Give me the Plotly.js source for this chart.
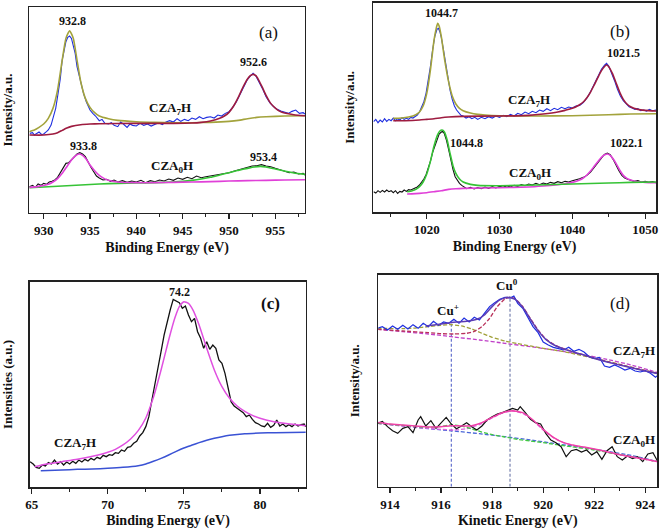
<!DOCTYPE html>
<html>
<head>
<meta charset="utf-8">
<script src="https://cdn.plot.ly/plotly-3.0.1.min.js"></script>
<style>html,body{margin:0;padding:0;background:#fff;}#chart{width:663px;height:529px;}</style>
</head>
<body>
<div id="chart"></div>
<script>
// ---------- Panel (a): Cu 2p ----------
const aDataX7 = [928.5,928.8,929.0,929.3,929.5,929.8,930.0,930.3,930.5,930.8,931.0,931.3,931.5,931.8,932.0,932.2,932.4,932.6,932.8,933.0,933.2,933.4,933.6,933.8,934.0,934.3,934.6,935.0,935.3,935.6,936.0,936.3,936.6,937.0,937.3,937.6,938.0,938.3,938.6,939.0,939.3,939.6,940.0,940.4,940.8,941.2,941.6,942.0,942.4,942.8,943.2,943.6,944.0,944.4,944.8,945.2,945.6,946.0,946.4,946.8,947.2,947.6,948.0,948.4,948.8,949.2,949.6,950.0,950.4,950.8,951.2,951.6,952.0,952.3,952.6,952.9,953.2,953.6,954.0,954.4,954.8,955.2,955.6,956.0,956.4,956.8,957.2,957.6,958.0,958.2];
const aDataY7 = [238,240,233,238,242,234,236,243,248,263,283,313,348,403,458,488,513,526,530,523,503,478,438,413,388,358,333,308,298,290,276,280,268,266,270,262,258,272,266,256,266,262,260,268,262,266,260,264,270,264,272,276,272,282,274,280,276,284,280,288,282,286,288,284,293,290,298,303,316,333,356,378,400,410,418,410,396,373,348,330,318,310,305,302,298,304,308,298,300,296];
const aFitX7o = [928.45,929,929.5,930,930.5,931,931.5,932,932.4,932.8,933.2,933.6,934,934.5,935,935.5,936,937,938,940,942,944,946,948,950,951,952,953,954,956,958.2];
const aFitY7o = [243,248,256,266,283,313,368,458,523,546,523,458,393,343,316,300,290,282,277,273,271,270,270,271,274,277,282,286,288,290,291];
const aFitX7m = [928.45,930,931,931.5,932,932.5,933,934,935,936,940,944,946,947,948,949,949.5,950,950.5,951,951.5,952,952.3,952.6,952.9,953.2,953.6,954,954.5,955,955.5,956,957,958.2];
const aFitY7m = [233,233,236,240,247,254,259,264,266,267,268,268,269,271,275,283,290,301,320,346,376,401,411,415,411,398,376,352,328,314,304,299,294,291];
const aDataX0 = [928.45,928.8,929.1,929.4,929.7,930.0,930.3,930.6,930.9,931.2,931.5,931.8,932.1,932.4,932.7,933.0,933.3,933.6,933.9,934.2,934.5,934.8,935.1,935.4,935.7,936.0,936.4,936.8,937.2,937.6,938.0,938.5,939.0,939.5,940.0,940.5,941.0,941.5,942.0,942.5,943.0,943.5,944.0,944.5,945.0,945.5,946.0,946.5,947.0,947.5,948.0,948.5,949.0,949.5,950.0,950.5,951.0,951.5,952.0,952.5,953.0,953.5,954.0,954.5,955.0,955.5,956.0,956.5,957.0,957.5,958.0,958.2];
const aDataY0 = [78,82,76,86,82,88,85,92,94,98,106,120,133,148,150,158,168,176,180,176,168,150,136,123,110,104,98,100,94,98,92,96,91,95,92,97,90,96,93,98,95,101,97,104,100,106,102,110,105,108,110,112,115,117,120,124,128,132,135,140,141,144,140,138,133,128,124,120,122,116,118,113];
const aFitX0p = [928.45,929.5,930.5,931,931.5,932,932.5,933,933.4,933.8,934.2,934.6,935,935.5,936,936.5,937,938,940,942,944,946,948,950,952,954,956,958.2];
const aFitY0p = [76,79,85,92,102,118,138,158,170,176,172,160,143,126,112,103,97,92,90,90,91,92,93,95,96,97,98,99];
const aFitX0g = [928.45,930,932,934,936,938,940,942,944,945,946,947,948,949,950,951,952,952.7,953.4,954,955,956,957,958.2];
const aFitY0g = [75,77,80,83,86,88,89,90,92,94,97,101,106,113,120,127,133,137,139,137,131,125,119,115];

// ---------- Panel (b): Zn 2p ----------
const bDataX7 = [1012.7,1013.0,1013.3,1013.6,1013.9,1014.2,1014.5,1014.8,1015.1,1015.4,1015.7,1016.0,1016.3,1016.6,1016.9,1017.2,1017.5,1017.8,1018.1,1018.4,1018.7,1019.0,1019.3,1019.6,1019.9,1020.2,1020.5,1020.8,1021.1,1021.4,1021.6,1021.8,1022.0,1022.3,1022.6,1022.9,1023.2,1023.5,1023.8,1024.1,1024.4,1024.7,1025.0,1025.4,1025.8,1026.2,1026.6,1027.0,1027.5,1028.0,1028.5,1029.0,1029.5,1030.0,1030.5,1031.0,1031.5,1032.0,1032.5,1033.0,1033.5,1034.0,1034.5,1035.0,1035.5,1036.0,1036.5,1037.0,1037.5,1038.0,1038.5,1039.0,1039.5,1040.0,1040.5,1041.0,1041.5,1042.0,1042.5,1043.0,1043.5,1044.0,1044.4,1044.7,1045.0,1045.4,1045.8,1046.2,1046.6,1047.0,1047.4,1047.8,1048.2,1048.6,1049.0,1049.4,1049.8,1050.2,1050.6,1051.0,1051.5];
const bDataY7 = [271,278,268,276,270,280,272,278,274,282,274,280,276,283,278,281,278,284,282,287,291,300,314,331,356,391,436,486,526,548,551,541,524,486,441,398,366,338,318,306,296,290,288,282,286,280,284,278,284,280,286,282,288,284,290,286,293,288,296,292,300,295,302,298,306,302,310,304,311,307,314,310,315,312,318,320,328,342,361,384,408,428,440,446,438,418,394,368,348,334,324,316,312,308,310,304,306,303,308,304,306];
const bFitX7o = [1015.4,1016.5,1017.5,1018.5,1019,1019.5,1020,1020.5,1021,1021.3,1021.5,1021.7,1022,1022.5,1023,1023.5,1024,1024.5,1025,1026,1027,1028,1030,1035,1040,1045,1048,1051.5];
const bFitY7o = [281,282,285,292,300,318,356,426,516,551,566,558,526,451,391,348,324,311,304,297,293,291,289,288,289,292,294,295];
const bFitX7m = [1015.4,1017,1019,1020,1021,1022,1023,1025,1030,1034,1036,1038,1039,1040,1041,1041.5,1042,1042.5,1043,1043.5,1044,1044.4,1044.7,1045,1045.5,1046,1046.5,1047,1047.5,1048,1049,1050,1051.5];
const bFitY7m = [274,274,276,278,280,283,285,287,288,290,294,300,305,311,322,330,343,360,381,403,424,436,441,436,416,388,360,338,324,316,308,305,303];
const bDataX0 = [1012.7,1013.0,1013.3,1013.6,1013.9,1014.2,1014.5,1014.8,1015.1,1015.4,1015.7,1016.0,1016.3,1016.6,1016.9,1017.2,1017.5,1017.8,1018.1,1018.4,1018.7,1019.0,1019.3,1019.6,1019.9,1020.2,1020.5,1020.8,1021.1,1021.4,1021.7,1022.0,1022.2,1022.4,1022.7,1023.0,1023.3,1023.6,1023.9,1024.2,1024.5,1024.8,1025.1,1025.5,1026.0,1026.5,1027.0,1027.5,1028.0,1028.5,1029.0,1029.5,1030.0,1030.5,1031.0,1031.5,1032.0,1032.5,1033.0,1033.5,1034.0,1034.5,1035.0,1035.5,1036.0,1036.5,1037.0,1037.5,1038.0,1038.5,1039.0,1039.5,1040.0,1040.5,1041.0,1041.5,1042.0,1042.5,1043.0,1043.5,1044.0,1044.4,1044.8,1045.2,1045.6,1046.0,1046.4,1046.8,1047.2,1047.6,1048.0,1048.5,1049.0,1049.5,1050.0,1050.5,1051.0,1051.5];
const bDataY0 = [61,57,64,59,65,60,66,61,64,58,64,56,62,60,66,62,67,66,69,71,75,81,89,99,112,130,152,178,198,218,234,240,242,236,216,188,154,128,106,94,86,80,76,70,74,69,73,70,75,71,76,72,77,74,79,75,80,77,82,79,84,81,86,82,87,84,89,86,91,88,92,90,94,96,100,104,110,120,134,150,164,173,177,172,158,140,124,110,102,98,95,92,94,90,92,89,91,88];
const bFitX0g = [1017.3,1018,1018.5,1019,1019.5,1020,1020.5,1021,1021.5,1021.8,1022.1,1022.4,1022.8,1023.2,1023.6,1024,1024.5,1025,1026,1027,1030,1035,1040,1045,1048,1051.5];
const bFitY0g = [61,64,68,76,90,114,152,198,232,243,246,241,216,176,139,116,99,90,83,80,79,81,84,87,89,90];
const bFitX0p = [1017.3,1019,1020,1021,1022,1023,1024,1025,1030,1034,1036,1038,1039,1040,1041,1041.5,1042,1042.5,1043,1043.5,1044,1044.4,1044.8,1045.2,1045.6,1046,1046.5,1047,1047.5,1048,1049,1050,1051.5];
const bFitY0p = [54,56,58,61,64,68,70,71,73,75,78,82,85,89,96,102,111,123,137,151,164,171,174,170,160,146,126,110,101,96,91,89,88];

// ---------- Panel (c): Al 2p ----------
const cDataX = [64.9,65.1,65.3,65.5,65.7,65.9,66.1,66.3,66.5,66.7,66.9,67.1,67.3,67.5,67.7,67.9,68.1,68.3,68.5,68.7,68.9,69.1,69.3,69.5,69.7,69.9,70.1,70.3,70.5,70.7,70.9,71.1,71.3,71.5,71.7,71.9,72.1,72.3,72.5,72.7,72.9,73.1,73.3,73.5,73.7,73.9,74.1,74.3,74.5,74.7,74.9,75.1,75.3,75.5,75.7,75.9,76.1,76.3,76.5,76.7,76.9,77.1,77.3,77.5,77.7,77.9,78.1,78.3,78.5,78.7,78.9,79.1,79.3,79.5,79.7,79.9,80.1,80.3,80.5,80.7,80.9,81.1,81.3,81.5,81.7,81.9,82.1,82.3,82.5,82.7,82.9,83.0];
const cDataY = [77,70,60,57,67,64,74,70,82,70,77,67,76,70,78,72,82,76,84,79,87,82,90,86,96,92,98,96,104,102,112,108,120,122,132,138,154,164,182,212,262,307,362,407,457,497,532,564,560,554,537,544,517,497,507,467,447,417,437,414,427,417,382,372,342,302,257,244,237,230,224,212,217,204,194,190,184,182,192,180,186,202,184,190,182,188,182,190,184,188,190,182];
const cFitX = [65.2,66,67,68,69,70,70.5,71,71.5,72,72.5,73,73.5,74,74.4,74.7,75,75.3,75.6,76,76.5,77,77.5,78,78.5,79,79.5,80,81,82,83];
const cFitY = [62,70,77,84,93,105,114,127,145,170,208,270,352,442,507,542,557,552,532,487,417,352,302,267,244,228,216,207,196,190,185];
const cBaseX = [65.6,67,68,69,70,71,72,72.5,73,73.5,74,74.5,75,75.5,76,76.5,77,77.5,78,79,80,81,83];
const cBaseY = [50,52,54,55,57,60,65,70,78,87,97,108,118,126,134,141,147,152,156,161,163,164,165];

// ---------- Panel (d): Cu LMM ----------
const dDataX7 = [913.5,913.7,913.9,914.1,914.3,914.5,914.7,914.9,915.1,915.3,915.5,915.7,915.9,916.1,916.3,916.5,916.7,916.9,917.1,917.3,917.5,917.7,917.9,918.1,918.3,918.5,918.7,918.85,919.0,919.2,919.4,919.6,919.8,920.0,920.2,920.4,920.6,920.8,921.0,921.2,921.4,921.6,921.8,922.0,922.2,922.4,922.6,922.8,923.0,923.2,923.4,923.6,923.8,924.0,924.2,924.4,924.5];
const dDataY7 = [475,480,470,482,472,484,473,486,475,490,480,496,484,494,490,502,490,506,494,508,500,520,540,552,562,568,566,572,550,535,508,480,462,434,425,418,414,410,418,406,412,404,390,384,388,362,358,365,358,350,355,347,344,348,340,328,335];
const dTotX7 = [915.4,915.8,916.2,916.6,917.0,917.4,917.7,918.0,918.3,918.6,918.9,919.2,919.5,919.8,920.1,920.5,921.0,921.5,922.0,922.5,923.0,923.5,924.0,924.5];
const dTotY7 = [482,486,490,494,496,502,515,540,560,568,562,538,502,468,442,422,408,397,385,374,365,356,347,339];
const dCu0X7 = [913.5,914.5,915.5,916.0,916.5,917.0,917.3,917.6,917.9,918.2,918.5,918.7,918.9,919.2,919.5,919.8,920.1,920.5,921.0,921.5,922.0,922.5,923.0,923.5,924.0,924.5];
const dCu0Y7 = [472,467,462,459,458,460,466,480,505,540,563,568,564,540,504,470,443,423,409,397,386,375,366,357,348,340];
const dCu1X7 = [913.5,914.5,915.0,915.5,916.0,916.4,916.8,917.2,917.6,918.0,918.5,919.0,919.5,920.0,920.5,921.0,922.0,923.0,924.0,924.5];
const dCu1Y7 = [475,474,476,480,484,486,482,473,460,448,437,429,422,415,409,402,385,367,348,340];
const dBaseX7 = [913.5,914.5,915.5,916.5,917.5,918.5,919.5,920.5,921.5,922.5,923.5,924.5];
const dBaseY7 = [472,465,458,449,440,430,420,409,397,382,364,342];
const dDataX0 = [913.5,913.7,913.9,914.1,914.3,914.5,914.7,914.9,915.1,915.2,915.4,915.6,915.8,916.0,916.2,916.4,916.6,916.8,917.0,917.2,917.4,917.6,917.8,918.0,918.2,918.4,918.6,918.8,919.0,919.1,919.3,919.5,919.7,919.9,920.1,920.3,920.5,920.7,920.9,921.1,921.3,921.5,921.7,921.9,922.1,922.3,922.5,922.7,922.9,923.1,923.3,923.5,923.7,923.9,924.1,924.3,924.5];
const dDataY0 = [190,196,180,168,160,175,180,162,200,210,182,198,175,192,208,188,174,182,192,180,170,182,200,210,218,222,228,235,230,240,222,202,192,188,160,140,132,120,90,108,112,104,110,95,105,82,108,120,90,80,92,84,90,75,98,102,74];
const dTotX0 = [913.5,914.0,914.5,915.0,915.5,916.0,916.4,916.8,917.2,917.6,918.0,918.4,918.8,919.2,919.6,920.0,920.4,920.8,921.2,921.6,922.0,922.5,923.0,923.5,924.0,924.5];
const dTotY0 = [193,188,185,182,179,180,183,182,183,192,208,222,228,222,200,172,148,132,124,119,113,105,96,89,82,75];
const dCu1X0 = [913.5,914.5,915.5,916.0,916.4,916.8,917.2,917.6,918.0,918.5,919.0,919.5,920.0,921.0,922.0,923.0,924.0,924.5];
const dCu1Y0 = [190,184,178,181,185,182,173,164,156,149,142,137,132,121,110,96,82,75];
const dCu0X0 = [913.5,914.5,915.5,916.0,916.5,917.0,917.5,918.0,918.4,918.8,919.2,919.6,920.0,920.4,920.8,921.2,922.0,923.0,924.0,924.5];
const dCu0Y0 = [190,182,175,172,170,174,186,206,221,227,220,198,170,147,132,124,112,96,82,75];
const dBaseX0 = [913.5,914.5,915.5,916.5,917.5,918.5,919.5,920.5,921.5,922.5,923.5,924.5];
const dBaseY0 = [190,182,174,167,159,150,140,129,118,106,93,75];
const cuPeakX = [916.4, 918.7];
const cuLineTop = [490, 572];

// ---------- helpers ----------
function ln(x, y, ax, color, width, dash, shape) {
  return {type:'scatter', mode:'lines', x:x, y:y, xaxis:'x'+ax, yaxis:'y'+ax,
    line:{color:color, width:width, dash:dash||'solid', shape:shape||'linear', smoothing:0.5},
    hoverinfo:'skip', showlegend:false};
}
const S = 'spline';
const DSH = '4px,2px';
const traces = [
  // (a)
  ln(aDataX7, aDataY7, '', '#1e2ee0', 1.1),
  ln(aFitX7o, aFitY7o, '', '#a3a33c', 1.6, null, S),
  ln(aFitX7m, aFitY7m, '', '#9e1c40', 1.6, null, S),
  ln(aDataX0, aDataY0, '', '#111111', 1.1),
  ln(aFitX0g, aFitY0g, '', '#36c336', 1.6, null, S),
  ln(aFitX0p, aFitY0p, '', '#e040d8', 1.6, null, S),
  // (b)
  ln(bDataX7, bDataY7, '2', '#1e2ee0', 1.1),
  ln(bFitX7o, bFitY7o, '2', '#a3a33c', 1.6, null, S),
  ln(bFitX7m, bFitY7m, '2', '#9e1c40', 1.6, null, S),
  ln(bDataX0, bDataY0, '2', '#111111', 1.1),
  ln(bFitX0p, bFitY0p, '2', '#e040d8', 1.6, null, S),
  ln(bFitX0g, bFitY0g, '2', '#36c336', 1.6, null, S),
  // (c)
  ln(cDataX, cDataY, '3', '#111111', 1.3),
  ln(cFitX, cFitY, '3', '#e050e0', 1.5, null, S),
  ln(cBaseX, cBaseY, '3', '#3a52d4', 1.5, null, S),
  // (d)
  ln([cuPeakX[0], cuPeakX[0]], [0, cuLineTop[0]], '4', '#5563c8', 1.1, '3px,2px'),
  ln([cuPeakX[1], cuPeakX[1]], [0, cuLineTop[1]], '4', '#6a76a8', 1.1, '3px,2px'),
  ln(dBaseX7, dBaseY7, '4', '#c040c8', 1.3, DSH, S),
  ln(dCu1X7, dCu1Y7, '4', '#a0a038', 1.3, DSH, S),
  ln(dCu0X7, dCu0Y7, '4', '#b8305a', 1.3, DSH, S),
  ln(dDataX7, dDataY7, '4', '#1e2ee0', 1.2),
  ln(dTotX7, dTotY7, '4', '#5c3cb4', 1.5, null, S),
  ln(dBaseX0, dBaseY0, '4', '#4a66d8', 1.3, DSH, S),
  ln(dCu0X0, dCu0Y0, '4', '#e060e0', 1.3, DSH, S),
  ln(dCu1X0, dCu1Y0, '4', '#40c840', 1.3, DSH, S),
  ln(dDataX0, dDataY0, '4', '#111111', 1.2),
  ln(dTotX0, dTotY0, '4', '#f040a8', 1.5, null, S)
];

const FF = 'Liberation Serif, Times New Roman, serif';
function xa(dom, rng, dt, mdt, title, so) {
  return {domain:dom, range:rng, dtick:dt, tick0:0, ticks:'outside', ticklen:5, tickwidth:1.2, tickcolor:'#222',
    showline:true, mirror:true, linecolor:'#222', linewidth:1.5, showgrid:false, zeroline:false,
    tickfont:{family:FF, size:13, color:'#111', weight:'bold'},
    minor:{dtick:mdt, ticks:'outside', ticklen:3, tickwidth:1, tickcolor:'#222', showgrid:false},
    title:{text:title, font:{family:FF, size:14, color:'#111', weight:'bold'}, standoff:so}};
}
function ya(dom, rng, title, anchor) {
  return {domain:dom, range:rng, showticklabels:false, ticks:'', showline:true, mirror:true,
    linecolor:'#222', linewidth:1.5, showgrid:false, zeroline:false, anchor:anchor,
    title:{text:title, font:{family:FF, size:13, color:'#111', weight:'bold'}, standoff:14}};
}
function ann(ax, x, y, text, size, weight) {
  return {xref:'x'+ax, yref:'y'+ax, x:x, y:y, text:text, showarrow:false,
    font:{family:FF, size:size||12, color:'#111', weight:weight||'bold'}};
}

const layout = {
  width:663, height:529, margin:{l:0, r:0, t:0, b:0}, paper_bgcolor:'#fff', plot_bgcolor:'#fff',
  xaxis: Object.assign(xa([0.0442,0.4600],[928.45,958.2],5,2.5,'Binding Energy (eV)',5),{anchor:'y'}),
  yaxis: ya([0.598,0.986],[0,616],'Intensity/a.u.','x'),
  xaxis2: Object.assign(xa([0.5631,0.9895],[1012.66,1051.5],10,5,'Binding Energy (eV)',5),{anchor:'y2'}),
  yaxis2: ya([0.5992,0.9949],[0,628],'Intensity/a.u.','x2'),
  xaxis3: Object.assign(xa([0.0452,0.4615],[64.89,83.02],5,2.5,'Binding Energy (eV)',8),{anchor:'y3'}),
  yaxis3: ya([0.0788,0.4675],[0,617],'Intensities (a.u.)','x3'),
  xaxis4: Object.assign(xa([0.5706,0.9914],[913.54,924.47],2,1,'Kinetic Energy (eV)',8),{anchor:'y4'}),
  yaxis4: ya([0.0800,0.4802],[0,635],'Intensity/a.u.','x4'),
  annotations: [
    ann('', 933.13, 576, '932.8'), ann('', 952.63, 453, '952.6'),
    ann('', 943.63, 313, 'CZA<sub>7</sub>H', 13), ann('', 934.28, 201, '933.8'),
    ann('', 953.7, 168, '953.4'), ann('', 943.8, 138, 'CZA<sub>0</sub>H', 13),
    ann('', 954.25, 541, '(a)', 17, 'normal'),
    ann('2', 1022.06, 596, '1044.7'), ann('2', 1047.06, 476, '1021.5'),
    ann('2', 1046.6, 541, '(b)', 17, 'normal'), ann('2', 1034.0, 336, 'CZA<sub>7</sub>H', 13),
    ann('2', 1025.5, 206, '1044.8'), ann('2', 1047.5, 206, '1022.1'),
    ann('2', 1034.2, 116, 'CZA<sub>0</sub>H', 13),
    ann('3', 74.74, 587, '74.2'), ann('3', 80.66, 552, '(c)', 17),
    ann('3', 67.85, 132, 'CZA<sub>7</sub>H', 13),
    ann('4', 918.6, 605, 'Cu<sup>0</sup>', 13), ann('4', 916.29, 530, 'Cu<sup>+</sup>', 13),
    ann('4', 923.0, 550, '(d)', 17, 'normal'),
    ann('4', 923.54, 405, 'CZA<sub>7</sub>H', 13), ann('4', 923.54, 140, 'CZA<sub>0</sub>H', 13)
  ]
};
Plotly.newPlot('chart', traces, layout, {staticPlot:true, displayModeBar:false});
</script>
</body>
</html>
